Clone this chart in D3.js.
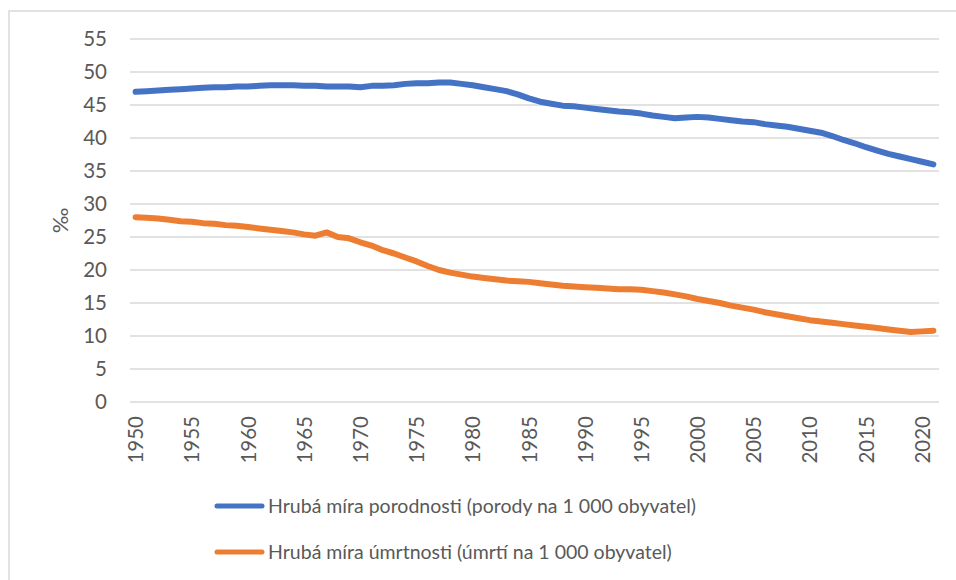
<!DOCTYPE html>
<html>
<head>
<meta charset="utf-8">
<script src="https://cdn.jsdelivr.net/npm/d3@7"></script>
<style>
  html, body { margin: 0; padding: 0; background: #fff; }
  svg { display: block; }
  text { font-family: Lato, "Open Sans", sans-serif; fill: #595959; }
</style>
</head>
<body>
<svg id="chart" width="956" height="580"></svg>
<script>
const years = d3.range(1950, 2022);
const birthRate = [
  47.0, 47.1, 47.2, 47.3, 47.4, 47.5, 47.6, 47.7, 47.7, 47.8,
  47.8, 47.9, 48.0, 48.0, 48.0, 47.9, 47.9, 47.8, 47.8, 47.8,
  47.7, 47.9, 47.9, 48.0, 48.2, 48.3, 48.3, 48.4, 48.4, 48.2,
  48.0, 47.7, 47.4, 47.1, 46.6, 46.0, 45.5, 45.2, 44.9, 44.8,
  44.6, 44.4, 44.2, 44.0, 43.9, 43.7, 43.4, 43.2, 43.0, 43.1,
  43.2, 43.1, 42.9, 42.7, 42.5, 42.4, 42.1, 41.9, 41.7, 41.4,
  41.1, 40.8, 40.3, 39.7, 39.2, 38.6, 38.1, 37.6, 37.2, 36.8,
  36.4, 36.0
];
const deathRate = [
  28.0, 27.9, 27.8, 27.6, 27.4, 27.3, 27.1, 27.0, 26.8, 26.7,
  26.5, 26.3, 26.1, 25.9, 25.7, 25.4, 25.2, 25.7, 25.0, 24.8,
  24.2, 23.7, 23.0, 22.5, 21.9, 21.3, 20.6, 20.0, 19.6, 19.3,
  19.0, 18.8, 18.6, 18.4, 18.3, 18.2, 18.0, 17.8, 17.6, 17.5,
  17.4, 17.3, 17.2, 17.1, 17.1, 17.0, 16.8, 16.6, 16.3, 16.0,
  15.6, 15.3, 15.0, 14.6, 14.3, 14.0, 13.6, 13.3, 13.0, 12.7,
  12.4, 12.2, 12.0, 11.8, 11.6, 11.4, 11.2, 11.0, 10.8, 10.6,
  10.7, 10.8
];
const yTicks = [0, 5, 10, 15, 20, 25, 30, 35, 40, 45, 50, 55];
const xTickYears = d3.range(1950, 2021, 5);
const seriesNames = [
  "Hrubá míra porodnosti (porody na 1 000 obyvatel)",
  "Hrubá míra úmrtnosti (úmrtí na 1 000 obyvatel)"
];
const seriesColors = ["#4472C4", "#ED7D31"];
const yTitle = "‰";

const svg = d3.select("#chart");
const plot = { left: 130, right: 939, top: 39, bottom: 402 };

// outer frame
svg.append("rect")
  .attr("x", 9).attr("y", 11)
  .attr("width", 1000).attr("height", 1000)
  .attr("fill", "none").attr("stroke", "#d9d9d9").attr("stroke-width", 1.5);

const x = d3.scalePoint().domain(years).range([plot.left, plot.right]).padding(0.5);
const y = d3.scaleLinear().domain([0, 55]).range([plot.bottom, plot.top]);

// gridlines
svg.append("g").selectAll("line").data(yTicks).join("line")
  .attr("x1", plot.left).attr("x2", plot.right)
  .attr("y1", d => y(d)).attr("y2", d => y(d))
  .attr("stroke", "#d9d9d9").attr("stroke-width", 1.3);

// y axis labels
const yAxis = svg.append("g")
  .attr("transform", `translate(${plot.left - 23},0)`)
  .call(d3.axisLeft(y).tickValues(yTicks).tickSize(0).tickPadding(0));
yAxis.select(".domain").remove();
yAxis.selectAll("text")
  .style("font-family", "Lato, 'Open Sans', sans-serif")
  .style("font-size", "20.5px").attr("fill", "#595959");

// x axis labels
const xAxis = svg.append("g")
  .attr("transform", `translate(0,${plot.bottom})`)
  .call(d3.axisBottom(x).tickValues(xTickYears).tickSize(0).tickPadding(0));
xAxis.select(".domain").remove();
xAxis.selectAll("text")
  .style("font-family", "Lato, 'Open Sans', sans-serif")
  .style("font-size", "20.5px").attr("fill", "#595959")
  .attr("text-anchor", "end")
  .attr("transform", "translate(0,14) rotate(-90)")
  .attr("x", 0).attr("y", 0).attr("dy", "0.35em");

// y title
svg.append("text")
  .attr("transform", `translate(60,${(plot.top + plot.bottom) / 2}) rotate(-90)`)
  .attr("text-anchor", "middle").attr("dy", "0.35em")
  .style("font-size", "22px")
  .text(yTitle);

// lines
const line = d3.line().x((d, i) => x(years[i])).y(d => y(d)).curve(d3.curveLinear);
[birthRate, deathRate].forEach((s, k) => {
  svg.append("path").datum(s)
    .attr("d", line)
    .attr("fill", "none")
    .attr("stroke", seriesColors[k])
    .attr("stroke-width", 6)
    .attr("stroke-linejoin", "round")
    .attr("stroke-linecap", "round");
});

// legend
const legendY = [506, 552];
seriesNames.forEach((name, k) => {
  svg.append("line")
    .attr("x1", 217).attr("x2", 262)
    .attr("y1", legendY[k]).attr("y2", legendY[k])
    .attr("stroke", seriesColors[k]).attr("stroke-width", 5)
    .attr("stroke-linecap", "round");
  svg.append("text")
    .attr("x", 268).attr("y", legendY[k]).attr("dy", "0.35em")
    .style("font-size", "19.5px")
    .text(name);
});
</script>
</body>
</html>
